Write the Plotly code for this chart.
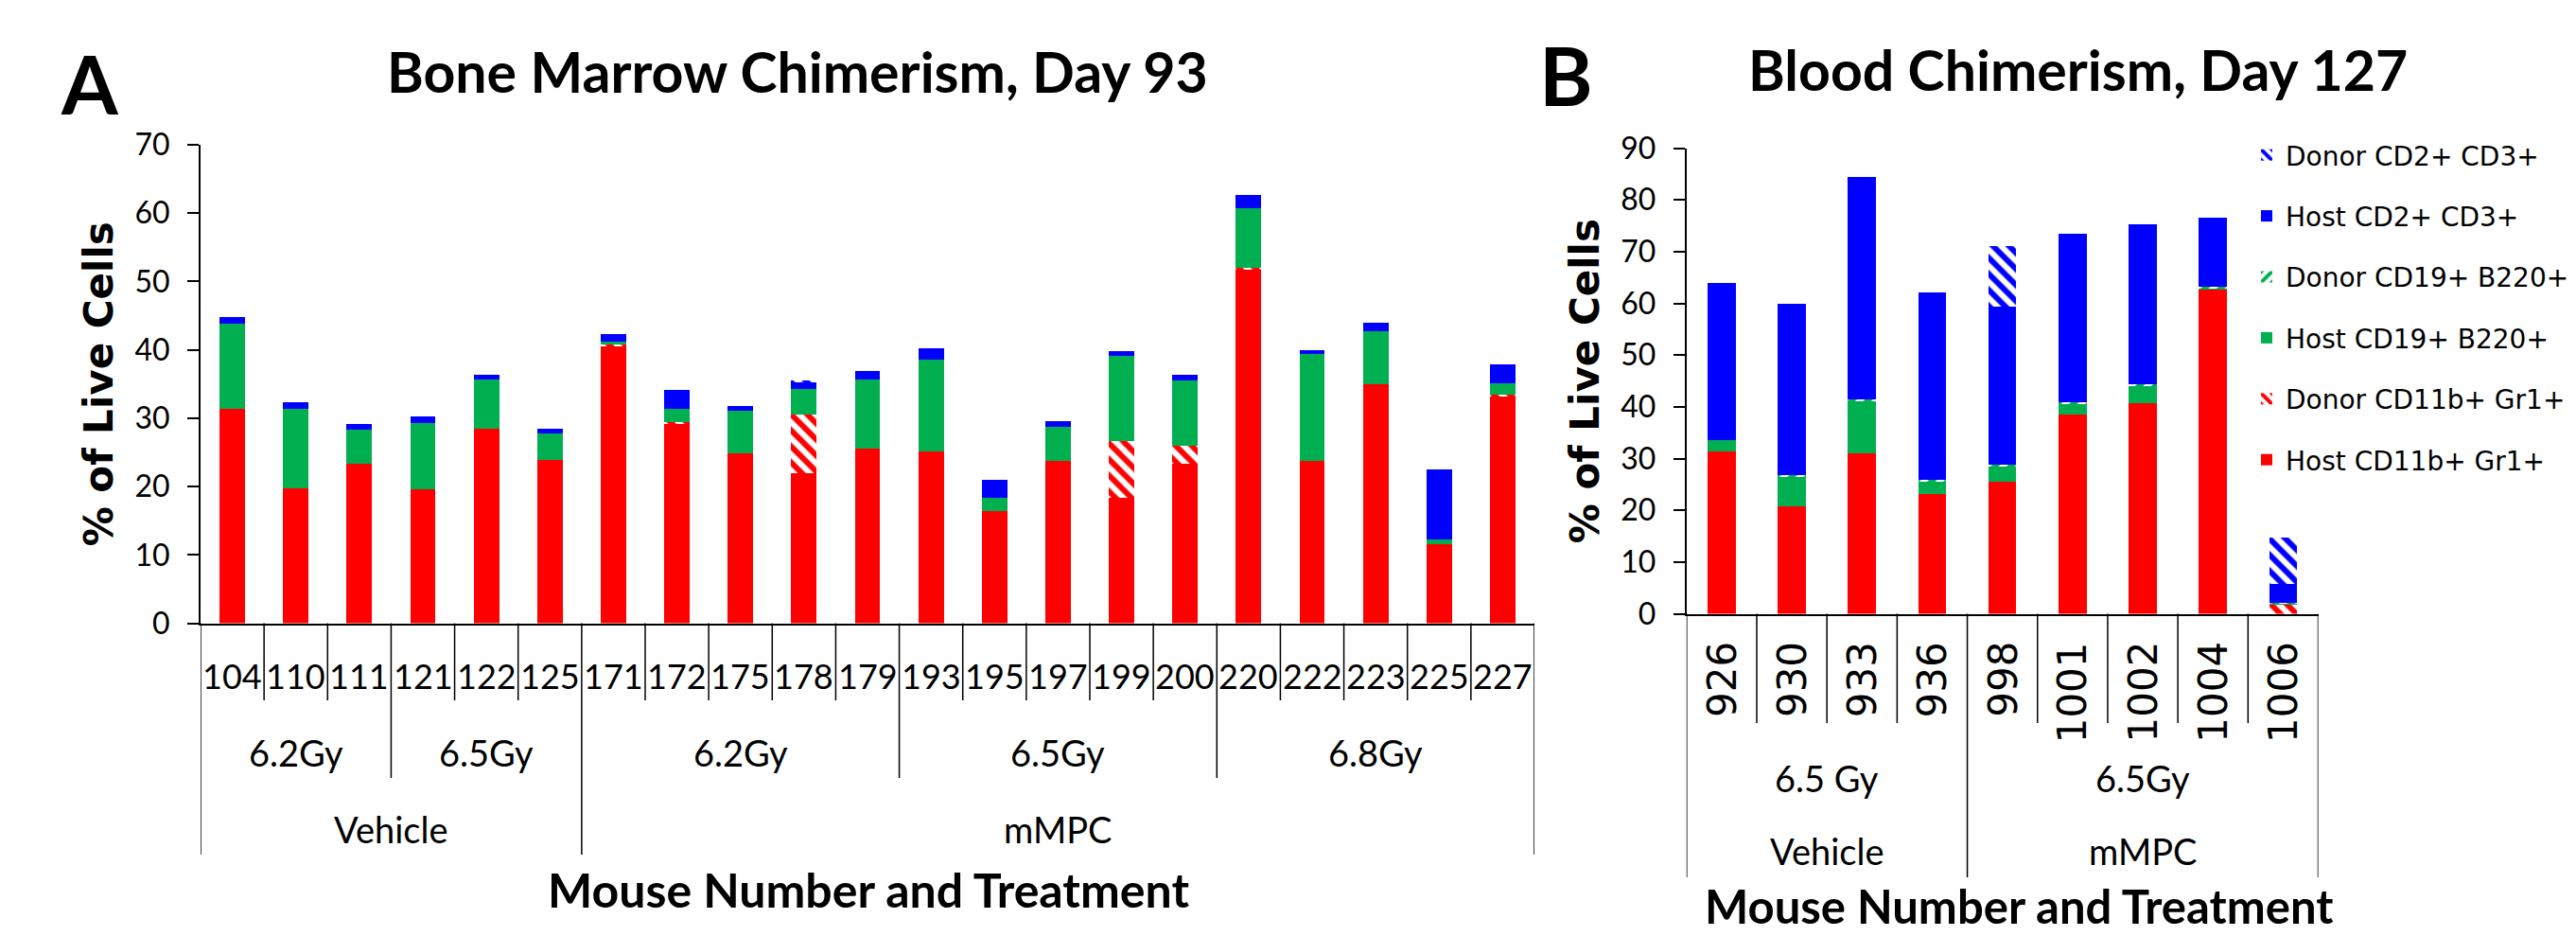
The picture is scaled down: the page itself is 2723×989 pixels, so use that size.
import plotly.graph_objects as go

W, H = 2723, 989

# ---------------- data ----------------
series_names = ["Host CD11b+ Gr1+", "Donor CD11b+ Gr1+", "Host CD19+ B220+",
                "Donor CD19+ B220+", "Host CD2+ CD3+", "Donor CD2+ CD3+"]

# Panel A: Bone marrow, day 93
mice_a = ["104", "110", "111", "121", "122", "125", "171", "172", "175", "178", "179",
          "193", "195", "197", "199", "200", "220", "222", "223", "225", "227"]
dose_a = ["6.2Gy", "6.2Gy", "6.2Gy", "6.5Gy", "6.5Gy", "6.5Gy",
          "6.2Gy", "6.2Gy", "6.2Gy", "6.2Gy", "6.2Gy",
          "6.5Gy", "6.5Gy", "6.5Gy", "6.5Gy", "6.5Gy",
          "6.8Gy", "6.8Gy", "6.8Gy", "6.8Gy", "6.8Gy"]
treat_a = ["Vehicle"] * 6 + ["mMPC"] * 15
host_myeloid_a = [31.3, 19.7, 23.4, 19.6, 28.5, 23.9, 40.6, 29.2, 24.8, 21.9, 25.6,
                  25.2, 16.4, 23.7, 18.3, 23.4, 51.8, 23.7, 34.9, 11.6, 33.3]
donor_myeloid_a = [0, 0, 0, 0, 0, 0, 0.2, 0.2, 0, 8.7, 0,
                   0, 0, 0, 8.4, 2.6, 0.2, 0, 0, 0, 0.2]
host_b_a = [12.5, 11.7, 4.9, 9.7, 7.1, 3.8, 0.4, 2.0, 6.3, 3.7, 10.1,
            13.4, 1.9, 5.1, 12.4, 9.5, 8.7, 15.7, 7.8, 0.7, 1.6]
donor_b_a = [0] * 21
host_t_a = [1.0, 1.0, 0.8, 0.9, 0.7, 0.7, 1.1, 2.8, 0.7, 0.9, 1.2,
            1.6, 2.7, 0.7, 0.7, 0.9, 1.9, 0.5, 1.2, 10.2, 2.8]
donor_t_a = [0, 0, 0, 0, 0, 0, 0, 0, 0, 0.3, 0,
             0, 0, 0, 0, 0, 0, 0, 0, 0, 0]

# Panel B: Blood, day 127
mice_b = ["926", "930", "933", "936", "998", "1001", "1002", "1004", "1006"]
dose_b = ["6.5 Gy"] * 4 + ["6.5Gy"] * 5
treat_b = ["Vehicle"] * 4 + ["mMPC"] * 5
host_myeloid_b = [31.3, 20.8, 31.0, 23.1, 25.6, 38.5, 40.8, 62.6, 0]
donor_myeloid_b = [0, 0, 0, 0, 0, 0, 0, 0, 1.9]
host_b_b = [2.2, 5.9, 10.2, 2.6, 3.1, 2.2, 3.4, 0.5, 0.2]
donor_b_b = [0, 0.2, 0.2, 0.2, 0.2, 0.2, 0.2, 0.2, 0.1]
host_t_b = [30.5, 33.0, 43.0, 36.3, 30.5, 32.6, 30.9, 13.3, 3.5]
donor_t_b = [0, 0, 0, 0, 11.6, 0, 0, 0, 9.0]

yticks_a = list(range(0, 71, 10))
yticks_b = list(range(0, 91, 10))

# ---------------- style ----------------
RED, GREEN, BLUE = "#FF0000", "#00B050", "#0000FF"
colors = [RED, RED, GREEN, GREEN, BLUE, BLUE]
patterns = ["", "\\", "", "/", "", "\\"]
CAL = "Lato, Carlito, 'Open Sans', sans-serif"
VER = "'DejaVu Sans', Verdana, sans-serif"
NARROW = "'Liberation Sans Narrow', 'DejaVu Sans', sans-serif"

vals_a = [host_myeloid_a, donor_myeloid_a, host_b_a, donor_b_a, host_t_a, donor_t_a]
vals_b = [host_myeloid_b, donor_myeloid_b, host_b_b, donor_b_b, host_t_b, donor_t_b]


def marker_for(k):
    if patterns[k]:
        return dict(color="white", line=dict(width=0),
                    pattern=dict(shape=patterns[k], fgcolor=colors[k], bgcolor="white",
                                 fgopacity=1, size=12, solidity=0.5))
    return dict(color=colors[k], line=dict(width=0))


fig = go.Figure()
for k, name in enumerate(series_names):
    fig.add_trace(go.Bar(x=mice_a, y=vals_a[k], name=name, marker=marker_for(k),
                         xaxis="x", yaxis="y", showlegend=False))
n = len(series_names)
for k, name in enumerate(series_names):
    fig.add_trace(go.Bar(x=mice_b, y=vals_b[k], name=name, marker=marker_for(k),
                         xaxis="x2", yaxis="y2", showlegend=True,
                         legendgroup=name, legendrank=n - k))


def py(p):
    return 1 - p / H


def px(p):
    return p / W


axis_common = dict(showgrid=False, zeroline=False, showline=True, linecolor="black",
                   linewidth=2, automargin=False)
ytitle = dict(text="<b>% of Live Cells</b>", standoff=10,
              font=dict(family=NARROW, size=42, color="black"))

fig.update_layout(
    width=W, height=H, autosize=False,
    margin=dict(l=0, r=0, t=0, b=0, pad=0, autoexpand=False),
    paper_bgcolor="white", plot_bgcolor="white",
    barmode="stack", bargap=0.6,
    xaxis=dict(domain=[px(212), px(1622)], anchor="y", type="category",
               categoryorder="array", categoryarray=mice_a,
               range=[-0.5, len(mice_a) - 0.5], fixedrange=True,
               showticklabels=False, ticks="", **axis_common),
    yaxis=dict(domain=[py(658.6), py(152.9)], anchor="x", range=[0, 70],
               tickvals=yticks_a, ticks="outside", ticklen=12, tickwidth=2,
               tickcolor="black", ticklabelstandoff=12, title=ytitle,
               tickfont=dict(family=CAL, size=32, color="black"), **axis_common),
    xaxis2=dict(domain=[px(1782.8), px(2450.5)], anchor="y2", type="category",
                categoryorder="array", categoryarray=mice_b,
                range=[-0.5, len(mice_b) - 0.5], fixedrange=True,
                showticklabels=False, ticks="", **axis_common),
    yaxis2=dict(domain=[py(648.6), py(156.6)], anchor="x2", range=[0, 90],
                tickvals=yticks_b, ticks="outside", ticklen=12, tickwidth=2,
                tickcolor="black", ticklabelstandoff=12, title=ytitle,
                tickfont=dict(family=CAL, size=32, color="black"), **axis_common),
    legend=dict(x=px(2376), y=py(139), xanchor="left", yanchor="top",
                traceorder="grouped", tracegroupgap=25,
                font=dict(family=VER, size=28, color="black"),
                bgcolor="rgba(0,0,0,0)", itemwidth=30),
)

ann = []
shapes = []


def text(x, y, s, size, family=CAL, bold=False, angle=0, xref="paper", yanchor="middle"):
    ann.append(dict(x=x, y=y, xref=xref, yref="paper", text=f"<b>{s}</b>" if bold else s,
                    showarrow=False, textangle=angle, xanchor="center", yanchor=yanchor,
                    font=dict(family=family, size=size, color="black")))


def vline(xref, xv, y0, y1, w=1.5):
    shapes.append(dict(type="line", xref=xref, yref="paper", x0=xv, x1=xv, y0=y0, y1=y1,
                       line=dict(color="black", width=w)))


def spans(labels):
    out = []
    start = 0
    for i in range(1, len(labels) + 1):
        if i == len(labels) or labels[i] != labels[start]:
            out.append((labels[start], start, i - 1))
            start = i
    return out


# Panel letters and titles
text(px(95), py(87), "A", 86, bold=True)
text(px(1655), py(79), "B", 86, bold=True)
text(px(843), py(76), "Bone Marrow Chimerism, Day 93", 59, bold=True)
text(px(2196), py(74), "Blood Chimerism, Day 127", 59, bold=True)

# Panel A category axis (3 levels); category positions given by index on the category axis
for i, m in enumerate(mice_a):
    text(i, py(714), m, 36, xref="x")
for lab, s, e in spans(dose_a):
    text((s + e) / 2, py(795), lab, 38, xref="x")
for lab, s, e in spans(treat_a):
    text((s + e) / 2, py(876), lab, 38, xref="x")
text(px(918), py(940), "Mouse Number and Treatment", 50, bold=True)

dose_bounds_a = {e for _, _, e in spans(dose_a)}
treat_bounds_a = {e for _, _, e in spans(treat_a)}
vline("x", -0.5, py(658.6), py(903))
for i in range(len(mice_a)):
    if i in treat_bounds_a:
        vline("x", i + 0.5, py(658.6), py(903))
    elif i in dose_bounds_a:
        vline("x", i + 0.5, py(658.6), py(822))
    else:
        vline("x", i + 0.5, py(658.6), py(740))

# Panel B category axis
for i, m in enumerate(mice_b):
    text(i, py(676), m, 42, family=NARROW, angle=-90, xref="x2", yanchor="top")
for lab, s, e in spans(dose_b):
    text((s + e) / 2, py(822), lab, 38, xref="x2")
for lab, s, e in spans(treat_b):
    text((s + e) / 2, py(899), lab, 38, xref="x2")
text(px(2134), py(988), "Mouse Number and Treatment", 49, bold=True, yanchor="bottom")

treat_bounds_b = {e for _, _, e in spans(treat_b)}
vline("x2", -0.5, py(648.6), py(927))
for i in range(len(mice_b)):
    if i in treat_bounds_b:
        vline("x2", i + 0.5, py(648.6), py(927))
    else:
        vline("x2", i + 0.5, py(648.6), py(764))

fig.update_layout(annotations=ann, shapes=shapes)

fig.write_html("out.html", config={"displayModeBar": False},
               post_script="document.body.style.margin='0';")
